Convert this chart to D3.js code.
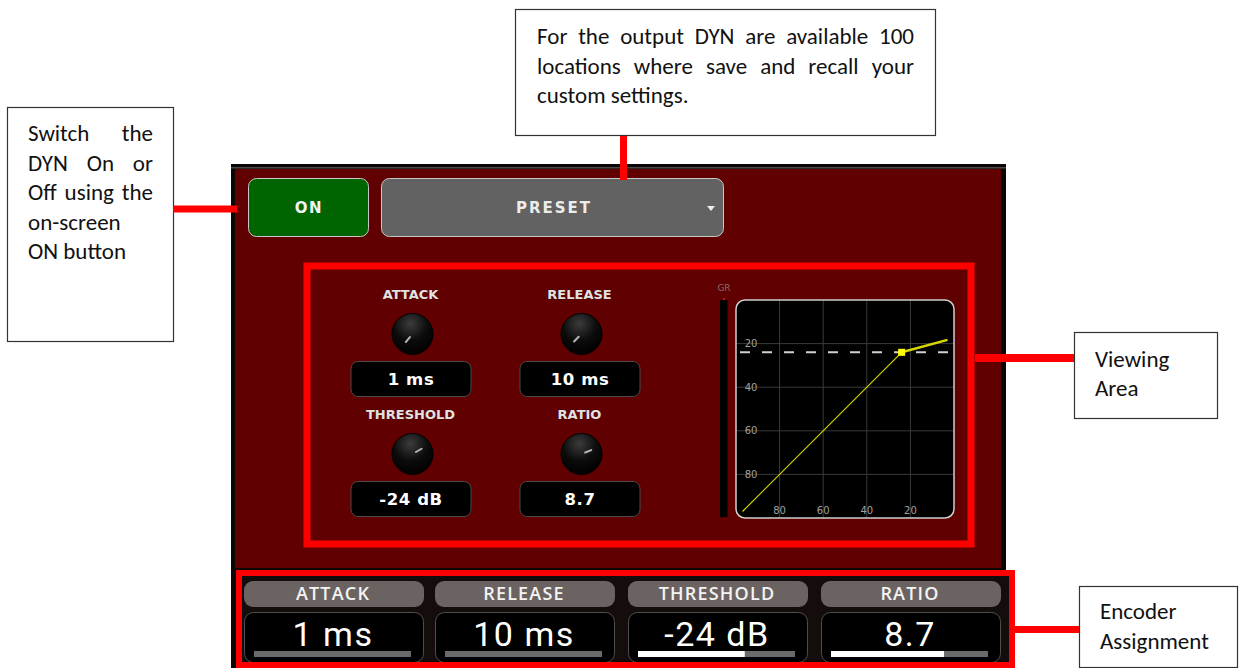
<!DOCTYPE html>
<html>
<head>
<meta charset="utf-8">
<script src="https://cdn.jsdelivr.net/npm/d3@7"></script>
<style>
  body { margin: 0; background: #fff; }
  svg { display: block; }
</style>
</head>
<body>
<div id="chart"></div>
<script>
// data
const params = ["ATTACK", "RELEASE", "THRESHOLD", "RATIO"];
const values = ["1 ms", "10 ms", "-24 dB", "8.7"];
const knobAngles = [-140, -135, 60, 68];      // pointer angle, degrees from 12 o'clock
const encoderFill = [0, 0, 0.68, 0.72];        // encoder bar position
const gridTicks = [20, 40, 60, 80];            // dB, shown without sign
const curveIn = [-97, -24, -3];
const curveOut = [-97, -24, -18.3];
const threshold = -24;

const noteLeft = ["Switch the", "DYN On or", "Off using the", "on-screen", "ON button"];
const noteTop = ["For the output DYN are available 100", "locations where save and recall your", "custom settings."];
const noteView = ["Viewing", "Area"];
const noteEnc = ["Encoder", "Assignment"];

const W = 1241, H = 668;
const uiFont = "'DejaVu Sans', sans-serif";
const noteFont = "Carlito, Lato, sans-serif";
const RED = "#ff0000";

const svg = d3.select("#chart").append("svg")
  .attr("width", W).attr("height", H)
  .attr("font-family", uiFont);

const defs = svg.append("defs");
const grad = defs.append("radialGradient").attr("id", "knob")
  .attr("cx", "45%").attr("cy", "25%").attr("r", "75%");
grad.append("stop").attr("offset", "0%").attr("stop-color", "#3c3c3c");
grad.append("stop").attr("offset", "55%").attr("stop-color", "#0c0c0c");
grad.append("stop").attr("offset", "100%").attr("stop-color", "#000");

// ---- panel ----
svg.append("rect").attr("x", 231).attr("y", 164).attr("width", 775).attr("height", 504).attr("fill", "#0c0706");
svg.append("rect").attr("x", 231).attr("y", 167).attr("width", 775).attr("height", 1.5).attr("fill", "#4a4a4a");
svg.append("rect").attr("x", 235).attr("y", 169).attr("width", 766).attr("height", 399).attr("fill", "#600000");

// ON button
svg.append("rect").attr("x", 248.5).attr("y", 178.5).attr("width", 120).attr("height", 58).attr("rx", 8)
  .attr("fill", "#006400").attr("stroke", "#c8c8c8");
svg.append("text").attr("x", 309).attr("y", 213).attr("text-anchor", "middle")
  .attr("fill", "#f2f2f2").attr("font-weight", 700).attr("font-size", 15)
  .attr("letter-spacing", 1.5).text("ON");

// PRESET button
svg.append("rect").attr("x", 381.5).attr("y", 178.5).attr("width", 342).attr("height", 58).attr("rx", 8)
  .attr("fill", "#626262").attr("stroke", "#c8c8c8");
svg.append("text").attr("x", 554).attr("y", 213).attr("text-anchor", "middle")
  .attr("fill", "#ececec").attr("font-weight", 700).attr("font-size", 15)
  .attr("letter-spacing", 2).text("PRESET");
svg.append("path").attr("d", "M707,206 L715,206 L711,211 Z").attr("fill", "#eee");

// ---- knobs ----
const knobX = [412.5, 581.5, 412.5, 581.5];
const knobY = [334, 334, 454, 454];
const rad = a => a * Math.PI / 180;

const knobs = svg.append("g").selectAll("g").data(params).join("g")
  .attr("transform", (d, i) => `translate(${knobX[i]},${knobY[i]})`);

knobs.append("text").attr("x", -2).attr("y", -35).attr("text-anchor", "middle")
  .attr("fill", "#e2e2e2").attr("font-weight", 700).attr("font-size", 13)
  .attr("stroke", "#3a0000").attr("stroke-width", 0.6).attr("paint-order", "stroke")
  .text(d => d);
knobs.append("circle").attr("r", 20.5).attr("fill", "url(#knob)").attr("stroke", "#000");
knobs.append("line")
  .attr("x1", (d, i) => 4 * Math.sin(rad(knobAngles[i])))
  .attr("y1", (d, i) => -4 * Math.cos(rad(knobAngles[i])))
  .attr("x2", (d, i) => 10.5 * Math.sin(rad(knobAngles[i])))
  .attr("y2", (d, i) => -10.5 * Math.cos(rad(knobAngles[i])))
  .attr("stroke", "#b5b5b5").attr("stroke-width", 2).attr("stroke-linecap", "round");
knobs.append("rect").attr("x", -61.5).attr("y", 27.5).attr("width", 120).attr("height", 35).attr("rx", 7)
  .attr("fill", "#000").attr("stroke", "#4a4a4a");
knobs.append("text").attr("x", -1.5).attr("y", 51).attr("text-anchor", "middle")
  .attr("fill", "#fff").attr("font-weight", 700).attr("font-size", 16.5)
  .attr("letter-spacing", 0.6)
  .text((d, i) => values[i]);

// ---- GR meter ----
svg.append("text").attr("x", 724).attr("y", 291).attr("text-anchor", "middle")
  .attr("fill", "#8a6a6a").attr("font-size", 9).text("GR");
svg.append("rect").attr("x", 720).attr("y", 300).attr("width", 7.5).attr("height", 217).attr("fill", "#000");
svg.append("rect").attr("x", 723.5).attr("y", 298).attr("width", 1.2).attr("height", 2).attr("fill", "#ff2020");

// ---- transfer graph ----
const gx0 = 736, gx1 = 954, gy0 = 300, gy1 = 518;
const x = d3.scaleLinear().domain([-100, 0]).range([gx0, gx1]);
const y = d3.scaleLinear().domain([0, -100]).range([gy0, gy1]);

defs.append("clipPath").attr("id", "gclip").append("rect")
  .attr("x", gx0).attr("y", gy0).attr("width", gx1 - gx0).attr("height", gy1 - gy0).attr("rx", 9);

svg.append("rect").attr("x", gx0).attr("y", gy0).attr("width", gx1 - gx0).attr("height", gy1 - gy0)
  .attr("rx", 9).attr("fill", "#000");

const graph = svg.append("g").attr("clip-path", "url(#gclip)");

graph.selectAll(".vg").data(gridTicks).join("line").attr("class", "vg")
  .attr("x1", d => x(-d)).attr("x2", d => x(-d)).attr("y1", gy0).attr("y2", gy1)
  .attr("stroke", "#3a3a3a").attr("stroke-width", 1);
graph.selectAll(".hg").data(gridTicks).join("line").attr("class", "hg")
  .attr("y1", d => y(-d)).attr("y2", d => y(-d)).attr("x1", gx0).attr("x2", gx1)
  .attr("stroke", "#3a3a3a").attr("stroke-width", 1);

graph.selectAll(".yl").data(gridTicks).join("text").attr("class", "yl")
  .attr("x", 751).attr("y", d => y(-d) + 3.5).attr("text-anchor", "middle")
  .attr("fill", "#a0a0a0").attr("font-size", 10).text(d => d);
graph.selectAll(".xl").data(gridTicks).join("text").attr("class", "xl")
  .attr("x", d => x(-d)).attr("y", 514).attr("text-anchor", "middle")
  .attr("fill", "#a0a0a0").attr("font-size", 10).text(d => d);

graph.append("line").attr("x1", gx0 + 4).attr("x2", gx1).attr("y1", y(threshold)).attr("y2", y(threshold))
  .attr("stroke", "#d0d0d0").attr("stroke-width", 2).attr("stroke-dasharray", "10,12");

const pts = curveIn.map((v, i) => [v, curveOut[i]]);
const line = d3.line().x(d => x(d[0])).y(d => y(d[1]));
graph.append("path").attr("d", line(pts.slice(0, 2))).attr("fill", "none")
  .attr("stroke", "#d8d800").attr("stroke-width", 1.2);
graph.append("path").attr("d", line(pts.slice(1))).attr("fill", "none")
  .attr("stroke", "#d8d800").attr("stroke-width", 2.5);
graph.append("rect").attr("x", x(threshold) - 3.5).attr("y", y(threshold) - 3.5)
  .attr("width", 7).attr("height", 7).attr("fill", "#ffff00");

svg.append("rect").attr("x", gx0).attr("y", gy0).attr("width", gx1 - gx0).attr("height", gy1 - gy0)
  .attr("rx", 9).attr("fill", "none").attr("stroke", "#d0d0d0").attr("stroke-width", 1.5);

// viewing area highlight
svg.append("rect").attr("x", 307).attr("y", 266).attr("width", 664).attr("height", 278)
  .attr("fill", "none").attr("stroke", RED).attr("stroke-width", 7);

// ---- encoder strip ----
svg.append("rect").attr("x", 239).attr("y", 573).attr("width", 773).attr("height", 93).attr("fill", "#150d0b");
const encX = [244, 435, 628, 821];
const encW = 180;
const enc = svg.append("g").selectAll("g").data(params).join("g")
  .attr("transform", (d, i) => `translate(${encX[i]},0)`);

enc.append("rect").attr("x", 0).attr("y", 581).attr("width", encW).attr("height", 26).attr("rx", 9)
  .attr("fill", "#6b6361");
enc.append("text").attr("x", encW / 2 - 1).attr("y", 599.5).attr("text-anchor", "middle")
  .attr("fill", "#f4f4f4").attr("font-weight", 600).attr("font-size", 18)
  .attr("font-family", "'Open Sans', sans-serif").attr("letter-spacing", 1.2).text(d => d);
enc.append("rect").attr("x", 0.5).attr("y", 612.5).attr("width", encW - 1).attr("height", 50).attr("rx", 9)
  .attr("fill", "#000").attr("stroke", "#4e4e4e");
enc.append("text").attr("x", encW / 2 - 1).attr("y", 646).attr("text-anchor", "middle")
  .attr("fill", "#fff").attr("font-size", 34).attr("letter-spacing", 1.5)
  .attr("font-family", "'Liberation Sans Narrow', Roboto, sans-serif")
  .text((d, i) => values[i]);

const bar = d3.scaleLinear().domain([0, 1]).range([0, 157]);
enc.append("rect").attr("x", 10).attr("y", 651).attr("width", bar(1)).attr("height", 6).attr("fill", "#6a6a6a");
enc.append("rect").attr("x", 10).attr("y", 651).attr("width", (d, i) => bar(encoderFill[i]))
  .attr("height", 6).attr("fill", "#fff");

svg.append("rect").attr("x", 239).attr("y", 573).attr("width", 773).attr("height", 92)
  .attr("fill", "none").attr("stroke", RED).attr("stroke-width", 6);

// ---- annotation boxes ----
function noteBox(x0, y0, w, h) {
  svg.append("rect").attr("x", x0 + 0.5).attr("y", y0 + 0.5).attr("width", w).attr("height", h)
    .attr("fill", "#fff").attr("stroke", "#333").attr("stroke-width", 1.2);
}

// one line of note text; justified lines spread words across tx0..tx1
function writeLine(tx0, tx1, ty, str, justify) {
  const words = str.split(" ");
  const g = svg.append("g").attr("font-family", noteFont).attr("font-size", 23).attr("fill", "#111");
  if (!justify || words.length < 2) {
    g.append("text").attr("x", tx0).attr("y", ty).text(str);
    return;
  }
  const t = g.selectAll("text").data(words).join("text").attr("y", ty).text(d => d);
  const widths = [];
  t.each(function () { widths.push(this.getComputedTextLength()); });
  const gap = Math.max(5, (tx1 - tx0 - d3.sum(widths)) / (words.length - 1));
  let cx = tx0;
  t.attr("x", (d, i) => { const v = cx; cx += widths[i] + gap; return v; });
}

// left note
noteBox(7, 107, 166, 234);
noteLeft.forEach((s, i) => writeLine(28, 153, 141 + i * 29.5, s, i < 3));
svg.append("rect").attr("x", 173).attr("y", 205.5).attr("width", 64).attr("height", 7).attr("fill", RED);

// top note
noteBox(515, 9, 420, 126);
noteTop.forEach((s, i) => writeLine(537, 914, 44 + i * 29.5, s, i < 2));
svg.append("rect").attr("x", 620).attr("y", 136).attr("width", 7).attr("height", 44).attr("fill", RED);

// viewing area note
noteBox(1074, 332, 143, 86);
noteView.forEach((s, i) => writeLine(1095, 1200, 367 + i * 29, s, false));
svg.append("rect").attr("x", 975).attr("y", 354).attr("width", 99).attr("height", 8).attr("fill", RED);

// encoder note
noteBox(1079, 586, 158, 81);
noteEnc.forEach((s, i) => writeLine(1100, 1230, 619 + i * 30, s, false));
svg.append("rect").attr("x", 1015).attr("y", 626).attr("width", 64).attr("height", 7).attr("fill", RED);
</script>
</body>
</html>
